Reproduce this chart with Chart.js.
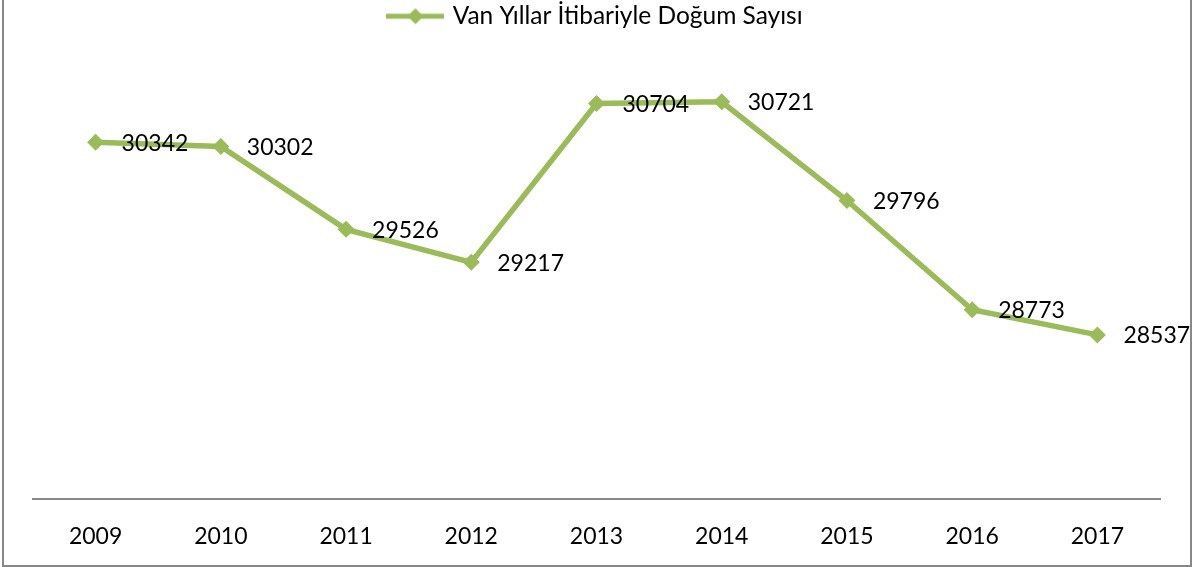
<!DOCTYPE html>
<html>
<head>
<meta charset="utf-8">
<script src="https://cdn.jsdelivr.net/npm/chart.js@4.4.1/dist/chart.umd.min.js"></script>
<style>
  html, body { margin: 0; padding: 0; background: #fff; }
  #wrap { position: relative; width: 1198px; height: 567px; }
  #frame { position: absolute; left: 2px; top: -4px; width: 1186px; height: 567px; border: 2px solid #888; pointer-events: none; }
</style>
</head>
<body>
<div id="wrap">
  <canvas id="linechart" width="1198" height="567"></canvas>
  <div id="frame"></div>
</div>
<script>
const years = ['2009', '2010', '2011', '2012', '2013', '2014', '2015', '2016', '2017'];
const births = [30342, 30302, 29526, 29217, 30704, 30721, 29796, 28773, 28537];
const seriesName = 'Van Yıllar İtibariyle Doğum Sayısı';
const yMin = 27000;
const yMax = 31000;

const green = '#9BBB59';
const fontFamily = 'Lato, "Open Sans", sans-serif';

// legend symbol: line with a diamond in the middle
const legendIcon = document.createElement('canvas');
legendIcon.width = 58;
legendIcon.height = 18;
const ic = legendIcon.getContext('2d');
ic.strokeStyle = green;
ic.lineWidth = 5;
ic.beginPath();
ic.moveTo(0, 9);
ic.lineTo(58, 9);
ic.stroke();
ic.fillStyle = green;
ic.beginPath();
ic.moveTo(29 - 8, 9);
ic.lineTo(29, 1);
ic.lineTo(29 + 8, 9);
ic.lineTo(29, 17);
ic.closePath();
ic.fill();

// make room under the legend
const legendSpace = {
    id: 'legendSpace',
    beforeInit(chart) {
        const fit = chart.legend.fit;
        chart.legend.fit = function () {
            fit.bind(chart.legend)();
            this.height = 71;
        };
    }
};

// value labels right of each point
const valueLabels = {
    id: 'valueLabels',
    afterDatasetsDraw(chart) {
        const ctx = chart.ctx;
        const meta = chart.getDatasetMeta(0);
        ctx.save();
        ctx.font = '23px ' + fontFamily;
        ctx.fillStyle = '#000';
        ctx.textAlign = 'left';
        ctx.textBaseline = 'middle';
        meta.data.forEach((pt, i) => {
            ctx.fillText(String(births[i]), pt.x + 26, pt.y + 1);
        });
        ctx.restore();
    }
};

const ctx = document.getElementById('linechart').getContext('2d');

new Chart(ctx, {
    type: 'line',
    data: {
        labels: years,
        datasets: [{
            label: seriesName,
            data: births,
            borderColor: green,
            backgroundColor: green,
            borderWidth: 5.5,
            pointStyle: 'rectRot',
            pointRadius: 8.5,
            pointBorderWidth: 0,
            pointBackgroundColor: green,
            tension: 0
        }]
    },
    options: {
        responsive: false,
        animation: false,
        layout: {
            padding: { left: 33, right: 38, top: 1, bottom: 0 }
        },
        scales: {
            x: {
                offset: true,
                grid: { display: false, drawTicks: false },
                border: { display: true, color: '#888', width: 2 },
                ticks: {
                    color: '#000',
                    padding: 24,
                    font: { family: fontFamily, size: 23 }
                },
                afterFit(scale) {
                    scale.height = 68;
                }
            },
            y: {
                display: false,
                min: yMin,
                max: yMax
            }
        },
        plugins: {
            legend: {
                display: true,
                position: 'top',
                labels: {
                    usePointStyle: true,
                    pointStyle: legendIcon,
                    pointStyleWidth: 50,
                    color: '#000',
                    padding: 3,
                    font: { family: fontFamily, size: 24.5 }
                }
            },
            tooltip: { enabled: false }
        }
    },
    plugins: [legendSpace, valueLabels]
});
</script>
</body>
</html>
